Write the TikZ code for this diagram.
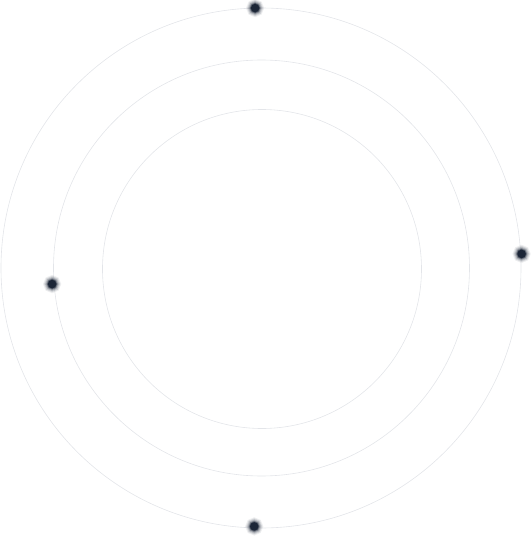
\documentclass[tikz,border=0pt]{standalone}
\usetikzlibrary{positioning}
\definecolor{ringgray}{HTML}{E3E5E9}
\definecolor{dotnavy}{HTML}{1C2637}
\tikzset{
  ring/.style={draw=ringgray, line width=0.6pt},
  glowdot/.style={circle, inner sep=0pt, minimum size=8.5pt, fill=dotnavy,
    preaction={draw=dotnavy, draw opacity=0.08, line width=9pt},
    preaction={draw=dotnavy, draw opacity=0.12, line width=7pt},
    preaction={draw=dotnavy, draw opacity=0.18, line width=5pt},
    preaction={draw=dotnavy, draw opacity=0.3, line width=3pt},
    preaction={draw=dotnavy, draw opacity=0.5, line width=1.4pt}}
}
\begin{document}
\begin{tikzpicture}[x=1pt, y=1pt]
    \useasboundingbox (-261,-268) rectangle (270,268);
    % three orbits
    \coordinate (centre) at (0,0);
    \draw[ring] (centre) circle (260);
    \draw[ring] (0.5,0) circle (208);
    \draw[ring] (1,-1) circle (159.5);

    % dots on the orbits
    \node[glowdot] (dotTop) at (91.3:260) {};
    \node[glowdot] (dotRight) at (3.1:261) {};
    \node[glowdot] (dotLeft) at (184.4:209.5) {};
    \node[glowdot] (dotBottom) at (268.5:258.5) {};
\end{tikzpicture}
\end{document}
